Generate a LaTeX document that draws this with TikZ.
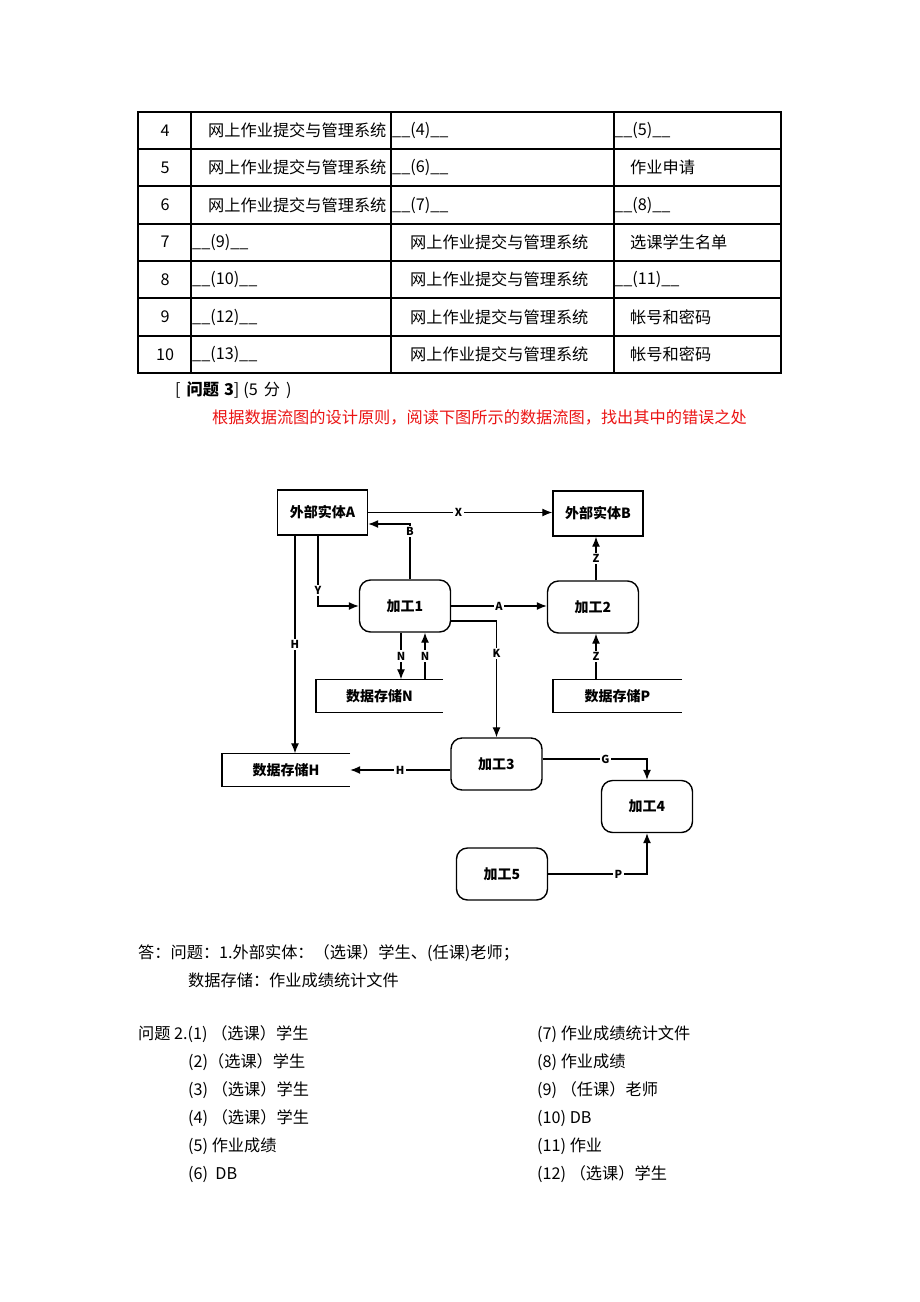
\documentclass[tikz,border=0pt]{standalone}
\usepackage{fontspec}
\setmainfont{Noto Sans CJK SC}
\usetikzlibrary{arrows.meta}
\definecolor{redtxt}{RGB}{235,20,20}
\begin{document}
\begin{tikzpicture}[x=1pt,y=-1pt,
  cell/.style={anchor=west,inner sep=0pt,font=\fontsize{16.2}{19}\selectfont},
  numcell/.style={inner sep=0pt,font=\fontsize{16.2}{19}\selectfont},
  tline/.style={line width=1.4pt},
  proc/.style={draw,line width=1.4pt,rounded corners=11pt,minimum width=91pt,minimum height=52pt,inner sep=0pt,font=\fontsize{14}{16}\selectfont\bfseries},
  ent/.style={draw,line width=1.4pt,minimum width=90pt,minimum height=45pt,inner sep=0pt,font=\fontsize{14}{16}\selectfont\bfseries},
  store/.style={minimum height=33pt,inner sep=0pt,font=\fontsize{14}{16}\selectfont\bfseries},
  sline/.style={line width=1.4pt},
  arr/.style={line width=1.3pt,-{Latex[length=10pt,width=8pt]}},
  lbl/.style={fill=white,inner sep=1.5pt,font=\fontsize{11}{13}\selectfont\bfseries},
  ans/.style={anchor=west,inner sep=0pt,font=\fontsize{16.2}{19}\selectfont}]
\useasboundingbox (0,0) rectangle (920,1302);
\fill[white] (0,0) rectangle (920,1302);

% ---------- table ----------
\draw[tline] (138,112) rectangle (781,373);
\foreach \yy in {149,186,224,261,298,336} \draw[tline] (138,\yy) -- (781,\yy);
\foreach \xx in {191,391,614} \draw[tline] (\xx,112) -- (\xx,373);

\foreach \yc/\n/\a/\ax/\b/\bx/\c/\cx [count=\i] in {
 130.5/4/网上作业提交与管理系统/208/\_\_(4)\_\_/392/\_\_(5)\_\_/614,
 167.5/5/网上作业提交与管理系统/208/\_\_(6)\_\_/392/作业申请/630,
 205/6/网上作业提交与管理系统/208/\_\_(7)\_\_/392/\_\_(8)\_\_/614,
 242/7/\_\_(9)\_\_/192/网上作业提交与管理系统/410/选课学生名单/630,
 279.5/8/\_\_(10)\_\_/192/网上作业提交与管理系统/410/\_\_(11)\_\_/614,
 317/9/\_\_(12)\_\_/192/网上作业提交与管理系统/410/帐号和密码/630,
 354.5/10/\_\_(13)\_\_/192/网上作业提交与管理系统/410/帐号和密码/630}
{
  \node[numcell] (num\i) at (165,\yc) {\n};
  \node[cell] (ca\i) at (\ax,\yc) {\a};
  \node[cell] (cb\i) at (\bx,\yc) {\b};
  \node[cell] (cc\i) at (\cx,\yc) {\c};
}

% ---------- heading ----------
\node[ans] (q3) at (175,390) {[\hspace{6pt}{\bfseries 问题\hspace{5pt}3}]\hspace{4pt}(5\hspace{6pt}分\hspace{6pt})};
\node[ans,text=redtxt] (redline) at (212,418) {根据数据流图的设计原则，阅读下图所示的数据流图，找出其中的错误之处};

% ---------- diagram ----------
\node[ent] (A) at (322.5,512.5) {外部实体A};
\node[ent] (B) at (598,513.5) {外部实体B};
\node[proc] (p1) at (405,606) {加工1};
\node[proc] (p2) at (593,607) {加工2};
\node[proc] (p3) at (496.5,764) {加工3};
\node[proc] (p4) at (647,806.5) {加工4};
\node[proc] (p5) at (502,874) {加工5};

\node[store,minimum width=127pt] (sN) at (379.5,696) {数据存储N};
\node[store,minimum width=129pt] (sP) at (617.5,696) {数据存储P};
\node[store,minimum width=128pt] (sH) at (286,770) {数据存储H};
\draw[sline] (sN.north east) -- (sN.north west) -- (sN.south west) -- (sN.south east);
\draw[sline] (sP.north east) -- (sP.north west) -- (sP.south west) -- (sP.south east);
\draw[sline] (sH.north east) -- (sH.north west) -- (sH.south west) -- (sH.south east);

% connectors
\draw[arr] (A.east) -- node[lbl,pos=0.49]{X} (A.east -| B.west);
\draw[arr] ([xshift=5pt]p1.north) |- node[lbl,pos=0.43]{B} ([yshift=-11.5pt]A.east);
\draw[arr] ([xshift=-4.5pt]A.south) |- node[lbl,pos=0.39]{Y} (p1.west);
\draw[arr] ([xshift=-27.5pt]A.south) -- node[lbl,pos=0.5]{H} ([xshift=-27.5pt]A.south |- sH.north);
\draw[arr] (p1.east) -- node[lbl,pos=0.5]{A} (p1.east -| p2.west);
\draw[arr] ([yshift=-15pt]p1.east) -| node[lbl,pos=0.64]{K} (p3.north);
\draw[arr] ([xshift=-4pt]p1.south) -- node[lbl,pos=0.5]{N} ([xshift=-4pt]p1.south |- sN.north);
\draw[arr] ([xshift=20pt]p1.south |- sN.north) -- node[lbl,pos=0.5]{N} ([xshift=20pt]p1.south);
\draw[arr] ([xshift=3pt]p2.north) -- node[lbl,pos=0.5]{Z} ([xshift=3pt]p2.north |- B.south);
\draw[arr] ([xshift=3pt]p2.south |- sP.north) -- node[lbl,pos=0.5]{Z} ([xshift=3pt]p2.south);
\draw[arr] (p3.west |- sH.east) -- node[lbl,pos=0.5]{H} (sH.east);
\draw[arr] ([yshift=5pt]p3.east) -| node[lbl,pos=0.3]{G} (p4.north);
\draw[arr] (p5.east) -| node[lbl,pos=0.355]{P} (p4.south);

% ---------- answers ----------
\node[ans] (ans1) at (138,953) {答：问题：1.外部实体：（选课）学生、(任课)老师；};
\node[ans] (ans2) at (188,980) {数据存储：作业成绩统计文件};
\node[ans] (l1) at (138,1034) {问题 2.(1)\ （选课）学生};
\node[ans] (l2) at (188,1062) {(2)（选课）学生};
\node[ans] (l3) at (188,1090) {(3)\ （选课）学生};
\node[ans] (l4) at (188,1118) {(4)\ （选课）学生};
\node[ans] (l5) at (188,1146) {(5)\ 作业成绩};
\node[ans] (l6) at (188,1174) {(6)\ \ DB};
\node[ans] (r7) at (537,1034) {(7)\ 作业成绩统计文件};
\node[ans] (r8) at (537,1062) {(8)\ 作业成绩};
\node[ans] (r9) at (537,1090) {(9)\ （任课）老师};
\node[ans] (r10) at (537,1118) {(10)\ DB};
\node[ans] (r11) at (537,1146) {(11)\ 作业};
\node[ans] (r12) at (537,1174) {(12)\ （选课）学生};
\end{tikzpicture}
\end{document}
